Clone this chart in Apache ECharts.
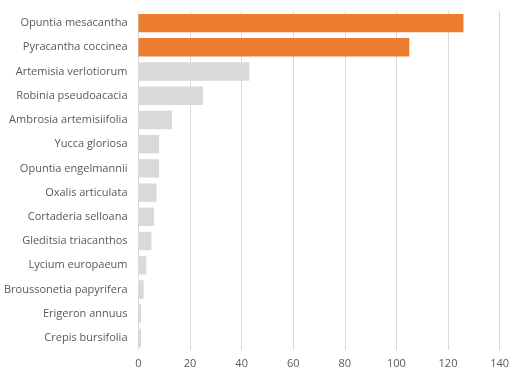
<!DOCTYPE html>
<html>
<head>
<meta charset="utf-8">
<script src="https://cdn.jsdelivr.net/npm/echarts@6/dist/echarts.min.js"></script>
<style>
  html, body { margin: 0; padding: 0; background: #fff; }
  #chart { width: 512px; height: 369px; }
</style>
</head>
<body>
<div id="chart"></div>
<script>
const species = [
  'Opuntia mesacantha', 'Pyracantha coccinea', 'Artemisia verlotiorum',
  'Robinia pseudoacacia', 'Ambrosia artemisiifolia', 'Yucca gloriosa',
  'Opuntia engelmannii', 'Oxalis articulata', 'Cortaderia selloana',
  'Gleditsia triacanthos', 'Lycium europaeum', 'Broussonetia papyrifera',
  'Erigeron annuus', 'Crepis bursifolia'
]
const counts = [126, 105, 43, 25, 13, 8, 8, 7, 6, 5, 3, 2, 1, 1]
const highlighted = ['Opuntia mesacantha', 'Pyracantha coccinea']
const xTicks = [0, 20, 40, 60, 80, 100, 120, 140]

const chart = echarts.init(document.getElementById('chart'))
const labelFont = { color: '#595959', fontSize: 11, fontFamily: 'Open Sans' }

chart.setOption({
  animation: false,
  grid: { left: 138.5, right: 9.5, top: 11, bottom: 18, containLabel: false },
  xAxis: {
    type: 'value',
    min: xTicks[0],
    max: xTicks[xTicks.length - 1],
    interval: 20,
    axisLine: { show: false },
    axisTick: { show: false },
    axisLabel: { ...labelFont, margin: 8 },
    splitLine: { lineStyle: { color: '#d9d9d9', width: 1 } }
  },
  yAxis: {
    type: 'category',
    inverse: true,
    data: species,
    axisLine: { show: false },
    axisTick: { show: false },
    axisLabel: { ...labelFont, margin: 11 }
  },
  series: [{
    type: 'bar',
    barCategoryGap: '24%',
    data: species.map((name, i) => ({
      value: counts[i],
      itemStyle: { color: highlighted.includes(name) ? '#ed7d31' : '#d9d9d9' }
    }))
  }]
})
</script>
</body>
</html>
